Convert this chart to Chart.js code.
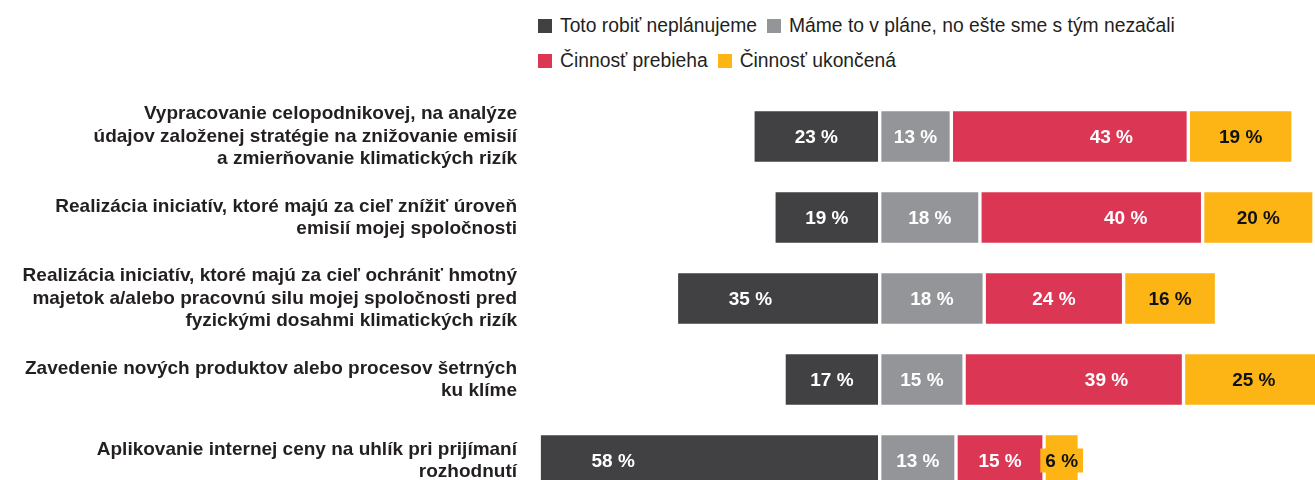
<!DOCTYPE html>
<html lang="sk">
<head>
<meta charset="utf-8">
<title>Klimatické riziká</title>
<script src="https://cdn.jsdelivr.net/npm/chart.js@4"></script>
<style>
  html, body { margin: 0; padding: 0; overflow: hidden; background: #fff; }
  body { width: 1315px; height: 480px; position: relative; font-family: "Liberation Sans", Arial, sans-serif; }
  .legenda { position: absolute; left: 538px; top: 0; color: #231f20; font-size: 19.3px; }
  .legenda .riadok { position: absolute; left: 0; white-space: nowrap; display: flex; align-items: center; height: 22px; }
  .legenda span { display: inline-flex; align-items: center; margin-right: 10px; }
  .legenda i { display: inline-block; width: 14px; height: 14px; margin-right: 8px; }
  #graf { position: absolute; left: 0; top: 0; }
</style>
</head>
<body>
<div class="legenda" id="legenda"></div>
<canvas id="graf" width="1315" height="501"></canvas>
<script>
// kategórie (riadky osi y)
const kategorie = [
  ["Vypracovanie celopodnikovej, na analýze", "údajov založenej stratégie na znižovanie emisií", "a zmierňovanie klimatických rizík"],
  ["Realizácia iniciatív, ktoré majú za cieľ znížiť úroveň", "emisií mojej spoločnosti"],
  ["Realizácia iniciatív, ktoré majú za cieľ ochrániť hmotný", "majetok a/alebo pracovnú silu mojej spoločnosti pred", "fyzickými dosahmi klimatických rizík"],
  ["Zavedenie nových produktov alebo procesov šetrných", "ku klíme"],
  ["Aplikovanie internej ceny na uhlík pri prijímaní", "rozhodnutí"]
];

const nazvySerii = [
  "Toto robiť neplánujeme",
  "Máme to v pláne, no ešte sme s tým nezačali",
  "Činnosť prebieha",
  "Činnosť ukončená"
];

// hodnoty v %
const nePlanujeme = [23, 19, 35, 17, 58];
const vPlane = [13, 18, 18, 15, 13];
const prebieha = [43, 40, 24, 39, 15];
const ukoncena = [19, 20, 16, 25, 6];

const farby = ["#414042", "#939598", "#db3755", "#fdb515"];
const farbyTextu = ["#ffffff", "#ffffff", "#ffffff", "#111111"];

// každý riadok je prepočítaný na 100 % šírky
const sucty = kategorie.map((_, i) => nePlanujeme[i] + vPlane[i] + prebieha[i] + ukoncena[i]);
const normuj = (arr, znak) => arr.map((v, i) => znak * v / sucty[i] * 100);

const serie = [nePlanujeme, vPlane, prebieha, ukoncena];

const datasets = serie.map((arr, i) => ({
  label: nazvySerii[i],
  data: normuj(arr, i === 0 ? -1 : 1),
  surove: arr,
  backgroundColor: farby[i],
  borderColor: "#ffffff",
  borderWidth: 2,
  borderSkipped: false,
  barThickness: 54
}));

// legenda v HTML
const legenda = document.getElementById("legenda");
const riadky = [[0, 1], [2, 3]];
const topy = [15, 50];
legenda.innerHTML = riadky.map((r, ri) =>
  `<div class="riadok" style="top:${topy[ri]}px">` +
  r.map(i => `<span><i style="background:${farby[i]}"></i>${nazvySerii[i]}</span>`).join("") +
  `</div>`
).join("");

const stitkyPlugin = {
  id: "stitky",
  afterDatasetsDraw(chart) {
    const ctx = chart.ctx;
    chart.data.datasets.forEach((ds, di) => {
      const meta = chart.getDatasetMeta(di);
      meta.data.forEach((bar, i) => {
        const { x, y, base } = bar.getProps(["x", "y", "base"], true);
        const lavy = Math.min(x, base);
        const pravy = Math.max(x, base);
        let stred = (lavy + pravy) / 2;
        if (di === 0) stred = Math.min(stred, lavy + 74);
        if (di === 2) stred = Math.max(stred, pravy - 77);
        const text = ds.surove[i] + " %";
        ctx.save();
        ctx.font = 'bold 19px "Liberation Sans", Arial, sans-serif';
        ctx.textAlign = "center";
        ctx.textBaseline = "middle";
        if (di === 3) {
          const w = ctx.measureText(text).width + 10;
          ctx.fillStyle = farby[3];
          ctx.fillRect(stred - w / 2, y - 12, w, 24);
        }
        ctx.fillStyle = farbyTextu[di];
        ctx.fillText(text, stred, y + 1);
        ctx.restore();
      });
    });
  }
};

const ctx = document.getElementById("graf").getContext("2d");
new Chart(ctx, {
  type: "bar",
  data: { labels: kategorie, datasets },
  plugins: [stitkyPlugin],
  options: {
    indexAxis: "y",
    responsive: false,
    animation: false,
    layout: { padding: { top: 96, left: 0, right: 0, bottom: 0 } },
    scales: {
      x: { type: "linear", stacked: true, min: -66.6, max: 80.6, display: false },
      y: {
        stacked: true,
        grid: { display: false, drawTicks: false },
        border: { display: false },
        ticks: {
          autoSkip: false,
          padding: 3,
          color: "#231f20",
          font: { family: '"Liberation Sans", Arial, sans-serif', size: 19, weight: "bold", lineHeight: 1.18 }
        },
        afterFit(axis) {
          axis.width = 520;
          axis.paddingTop = 0;
          axis.paddingBottom = 0;
        }
      }
    },
    plugins: {
      legend: { display: false },
      tooltip: { enabled: false }
    }
  }
});
</script>
</body>
</html>
